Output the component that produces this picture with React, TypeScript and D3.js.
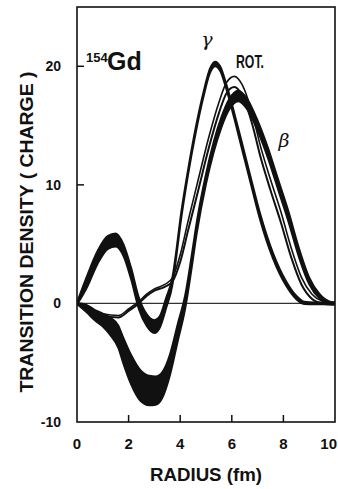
import React from "react";
import * as d3 from "d3";

const xTicks = [0, 2, 4, 6, 8, 10];
const yTickLabels = [-10, 0, 10, 20];
const yTickMarks = [10, 20];

// each row: [radius fm, centre of band, half width of band]
const gammaBand = [
  [0, 0, 0.1], [0.4, 1.9, 0.5], [0.8, 3.9, 0.55], [1.2, 5.15, 0.55], [1.5, 5.35, 0.55],
  [1.8, 4.5, 0.5], [2.1, 2.5, 0.5], [2.4, 0.0, 0.5], [2.7, -1.4, 0.5], [3.0, -1.95, 0.55],
  [3.2, -1.6, 0.5], [3.45, 0, 0.45], [3.7, 1.9, 0.35], [3.85, 4.2, 0.3], [4.0, 6.8, 0.3],
  [4.3, 11.0, 0.25], [4.6, 14.6, 0.25], [4.9, 17.6, 0.22], [5.15, 19.6, 0.2], [5.35, 20.2, 0.2],
  [5.55, 19.8, 0.2], [5.8, 18.2, 0.22], [6.1, 15.8, 0.25], [6.45, 12.8, 0.28], [6.8, 9.8, 0.28],
  [7.1, 7.3, 0.28], [7.6, 4.0, 0.25], [8.1, 1.7, 0.2], [8.5, 0.5, 0.15], [8.8, 0.05, 0.1],
  [9.2, 0, 0.08], [10, 0, 0.08],
];

const rotBand = [
  [0, 0, 0.05], [0.5, -0.5, 0.08], [1.0, -0.95, 0.08], [1.6, -1.1, 0.08], [2.0, -0.55, 0.08],
  [2.35, 0, 0.08], [2.7, 0.7, 0.08], [3.0, 1.15, 0.08], [3.4, 1.5, 0.1], [3.7, 2.0, 0.15],
  [4.0, 3.8, 0.3], [4.3, 6.5, 0.4], [4.7, 10.0, 0.45], [5.1, 13.5, 0.45], [5.5, 16.5, 0.45],
  [5.8, 18.2, 0.45], [6.1, 18.7, 0.45], [6.4, 18.0, 0.45], [6.8, 15.5, 0.45], [7.1, 12.9, 0.45],
  [7.5, 10.0, 0.45], [7.9, 7.3, 0.45], [8.3, 4.3, 0.4], [8.7, 1.9, 0.3], [9.1, 0.6, 0.2],
  [9.5, 0.1, 0.1], [9.8, 0, 0.08], [10, 0, 0.08],
];

const betaBand = [
  [0, 0, 0.05], [0.35, -0.4, 0.3], [0.7, -1.0, 0.45], [1.0, -1.4, 0.55], [1.3, -1.95, 0.75],
  [1.6, -2.8, 0.95], [1.8, -4.0, 1.1], [2.1, -5.6, 1.25], [2.45, -6.9, 1.3], [2.8, -7.35, 1.25],
  [3.05, -7.35, 1.2], [3.3, -6.9, 1.1], [3.6, -5.2, 0.9], [3.9, -2.5, 0.75], [4.2, 0.2, 0.6],
  [4.45, 3.6, 0.55], [4.65, 6.5, 0.5], [5.0, 10.5, 0.45], [5.3, 13.2, 0.45], [5.6, 15.3, 0.45],
  [5.9, 16.8, 0.45], [6.25, 17.5, 0.45], [6.6, 16.8, 0.45], [7.0, 15.0, 0.45], [7.4, 12.7, 0.45],
  [7.8, 10.0, 0.45], [8.2, 7.3, 0.45], [8.6, 4.3, 0.4], [9.0, 1.9, 0.3], [9.4, 0.6, 0.2],
  [9.8, 0.05, 0.1], [10, 0, 0.08],
];

const font = "'Liberation Sans', Arial, sans-serif";

export default function App() {
  const width = 338;
  const height = 489;

  const x = d3.scaleLinear().domain([0, 10]).range([77, 335]);
  const y = d3.scaleLinear().domain([-10, 25]).range([422, 7]);

  const area = d3
    .area<number[]>()
    .x((d) => x(d[0]))
    .y0((d) => y(d[1] - d[2]))
    .y1((d) => y(d[1] + d[2]))
    .curve(d3.curveMonotoneX);
  const lower = d3
    .line<number[]>()
    .x((d) => x(d[0]))
    .y((d) => y(d[1] - d[2]))
    .curve(d3.curveMonotoneX);
  const upper = d3
    .line<number[]>()
    .x((d) => x(d[0]))
    .y((d) => y(d[1] + d[2]))
    .curve(d3.curveMonotoneX);

  const ink = "#111";

  return (
    <div style={{ position: "absolute", left: 0, top: 0 }}>
      <svg width={width} height={height} style={{ display: "block", background: "#fff" }}>
        <defs>
          <clipPath id="frame">
            <rect x={x(0)} y={y(25)} width={x(10) - x(0)} height={y(-10) - y(25)} />
          </clipPath>
        </defs>

        {/* zero line */}
        <line x1={x(0)} x2={x(10)} y1={y(0)} y2={y(0)} stroke="#333" strokeWidth={1.2} />

        <g clipPath="url(#frame)">
          {/* gamma: filled band */}
          <path d={area(gammaBand) ?? ""} fill={ink} />
          <path d={lower(gammaBand) ?? ""} fill="none" stroke={ink} strokeWidth={1.8} />
          <path d={upper(gammaBand) ?? ""} fill="none" stroke={ink} strokeWidth={1.8} />

          {/* beta: filled band */}
          <path d={area(betaBand) ?? ""} fill={ink} />
          <path d={lower(betaBand) ?? ""} fill="none" stroke={ink} strokeWidth={1.8} />
          <path d={upper(betaBand) ?? ""} fill="none" stroke={ink} strokeWidth={1.8} />

          {/* rotational: band drawn as two thin edges */}
          <path d={lower(rotBand) ?? ""} fill="none" stroke={ink} strokeWidth={2} />
          <path d={upper(rotBand) ?? ""} fill="none" stroke={ink} strokeWidth={1.6} />
        </g>

        {/* frame */}
        <rect
          x={x(0)}
          y={y(25)}
          width={x(10) - x(0)}
          height={y(-10) - y(25)}
          fill="none"
          stroke={ink}
          strokeWidth={1.6}
        />

        {/* ticks */}
        {yTickMarks.map((t) => (
          <line key={"yt" + t} x1={x(0)} x2={x(0) + 7} y1={y(t)} y2={y(t)} stroke={ink} strokeWidth={1.5} />
        ))}
        {xTicks.slice(1, -1).map((t) => (
          <line key={"xt" + t} x1={x(t)} x2={x(t)} y1={y(-10)} y2={y(-10) - 7} stroke={ink} strokeWidth={1.5} />
        ))}

        {/* tick labels */}
        {yTickLabels.map((t) => (
          <text
            key={"yl" + t}
            x={61}
            y={y(t)}
            dy="0.36em"
            textAnchor="end"
            fontFamily={font}
            fontWeight="bold"
            fontSize={14}
            fill={ink}
          >
            {t < 0 ? "-" + Math.abs(t) : t}
          </text>
        ))}
        {xTicks.map((t) => (
          <text
            key={"xl" + t}
            x={t === 10 ? 337 : x(t)}
            y={449}
            textAnchor={t === 10 ? "end" : "middle"}
            fontFamily={font}
            fontWeight="bold"
            fontSize={15}
            fill={ink}
          >
            {t}
          </text>
        ))}

        {/* axis titles */}
        <text
          x={206}
          y={481}
          textAnchor="middle"
          fontFamily={font}
          fontWeight="bold"
          fontSize={18}
          textLength={112}
          lengthAdjust="spacingAndGlyphs"
          fill={ink}
        >
          RADIUS (fm)
        </text>
        <text
          transform="translate(33,232) rotate(-90)"
          textAnchor="middle"
          fontFamily={font}
          fontWeight="bold"
          fontSize={19}
          textLength={321}
          lengthAdjust="spacingAndGlyphs"
          fill={ink}
        >
          TRANSITION DENSITY ( CHARGE )
        </text>

        {/* annotations */}
        <text x={86} y={62} fontFamily={font} fontWeight="bold" fontSize={13} fill={ink}>
          154
        </text>
        <text x={107} y={70} fontFamily={font} fontWeight="bold" fontSize={25} fill={ink}>
          Gd
        </text>
        <text x={207} y={46} textAnchor="middle" fontFamily="'DejaVu Serif', serif" fontStyle="italic" fontSize={19} fill={ink}>
          γ
        </text>
        <text x={236} y={68} fontFamily={font} fontWeight="bold" fontSize={18} textLength={28} lengthAdjust="spacingAndGlyphs" fill={ink}>
          ROT.
        </text>
        <text x={284} y={147} textAnchor="middle" fontFamily="'DejaVu Serif', serif" fontStyle="italic" fontSize={19} fill={ink}>
          β
        </text>
      </svg>
    </div>
  );
}
